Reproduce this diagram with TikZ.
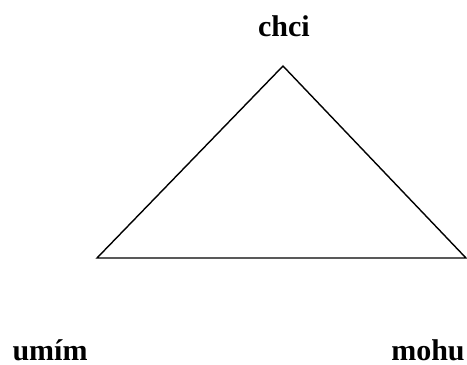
\documentclass[tikz,border=0pt]{standalone}
\usepackage{fontspec}
\setmainfont{Liberation Serif}
\begin{document}
\begin{tikzpicture}[x=0.5pt,y=-0.5pt]
\useasboundingbox (0,0) rectangle (467,365);
\coordinate (top) at (283,66);
\coordinate (left) at (97,258);
\coordinate (right) at (466,258);
\draw[line width=0.7pt,line join=miter] (left) -- (top) -- (right) -- cycle;
\node[anchor=base,inner sep=0pt,font=\fontsize{15}{18}\selectfont\bfseries] (chci) at (284,36) {chci};
\node[anchor=base,inner sep=0pt,font=\fontsize{15}{18}\selectfont\bfseries] (umim) at (50,360) {umím};
\node[anchor=base,inner sep=0pt,font=\fontsize{15}{18}\selectfont\bfseries] (mohu) at (428,360) {mohu};
\end{tikzpicture}
\end{document}
